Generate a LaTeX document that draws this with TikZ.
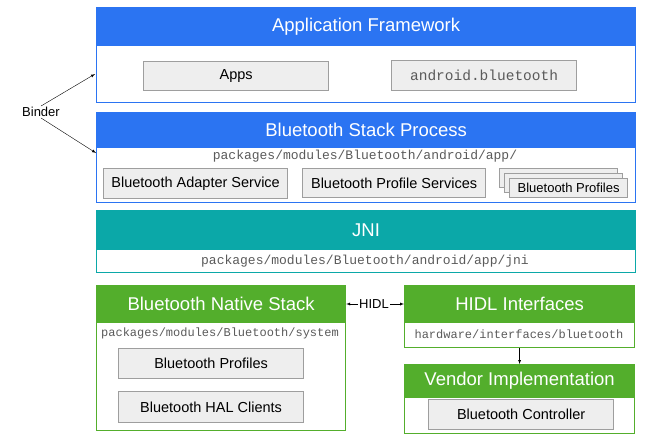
\documentclass[tikz,border=0pt]{standalone}
\usepackage{fontspec}
\setmainfont{Liberation Sans}
\setmonofont{Liberation Mono}
\usepackage{tikz}
\newcommand{\code}[1]{\texttt{#1}}
\definecolor{fwblue}{HTML}{2B74F2}
\definecolor{jniteal}{HTML}{0BA8A8}
\definecolor{natgreen}{HTML}{53AE2C}
\definecolor{boxgray}{HTML}{EEEEEE}
\definecolor{boxline}{HTML}{9E9E9E}
\definecolor{pathgray}{HTML}{5A5A5A}
\tikzset{
  layer/.style={draw=#1, line width=1.2pt, anchor=north west, inner sep=0pt},
  header/.style={fill=#1, draw=#1, line width=1.2pt, text=white, anchor=north west, inner sep=0pt, font=\fontsize{18.5}{20}\selectfont},
  comp/.style={draw=boxline, fill=boxgray, line width=1.2pt, anchor=north west, inner sep=0pt, font=\fontsize{14.5}{16}\selectfont},
  srcpath/.style={text=pathgray, inner sep=0pt, font=\fontsize{#1}{15}\selectfont\ttfamily},
  srcpath/.default=13,
  lbl/.style={inner sep=1pt, font=\fontsize{13}{15}\selectfont}
}

\begin{document}
\begin{tikzpicture}[x=1pt, y=-1pt, >=latex]
\useasboundingbox (0,0) rectangle (655,444);

% application framework
\node[layer=fwblue, minimum width=539pt, minimum height=95pt] (app) at (96,7) {};
\node[header=fwblue, minimum width=539pt, minimum height=38pt] (apphead) at (96,7) {Application Framework};
\node[comp, minimum width=185pt, minimum height=29pt] (apps) at (143,61) {Apps};
\node[comp, minimum width=185pt, minimum height=30pt, text=pathgray] (andbt) at (391,60) {\fontsize{14.5}{16}\selectfont\code{android.bluetooth}};

% bluetooth stack process
\node[layer=fwblue, minimum width=539pt, minimum height=90pt] (stack) at (96,112) {};
\node[header=fwblue, minimum width=539pt, minimum height=35pt] (stackhead) at (96,112) {Bluetooth Stack Process};
\node[srcpath] (stackpath) at (365,156) {packages/modules/Bluetooth/android/app/};
\node[comp, minimum width=184pt, minimum height=30pt] (adapter) at (103,168) {Bluetooth Adapter Service};
\node[comp, minimum width=183pt, minimum height=29pt] (profsvc) at (302,168) {Bluetooth Profile Services};
\node[comp, minimum width=118pt, minimum height=19pt] (prof1) at (499,168) {};
\node[comp, minimum width=118pt, minimum height=19pt] (prof2) at (504,173) {};
\node[comp, minimum width=118pt, minimum height=19pt, font=\fontsize{13}{15}\selectfont] (prof3) at (509,178) {Bluetooth Profiles};

% binder
\node[lbl] (binder) at (41,112) {Binder};
\coordinate (appin) at (95,74);
\coordinate (stackin) at (96,153);
\draw[->] (binder.north) -- (appin);
\draw[->] (binder.south) -- (stackin);

% jni
\node[layer=jniteal, minimum width=539pt, minimum height=62pt] (jni) at (96,210) {};
\node[header=jniteal, minimum width=539pt, minimum height=39pt] (jnihead) at (96,210) {JNI};
\node[srcpath] (jnipath) at (365,261) {packages/modules/Bluetooth/android/app/jni};

% native stack
\node[layer=natgreen, minimum width=249pt, minimum height=145pt] (native) at (96,285) {};
\node[header=natgreen, minimum width=249pt, minimum height=37pt] (nativehead) at (96,285) {Bluetooth Native Stack};
\node[srcpath=12] (nativepath) at (220,333) {packages/modules/Bluetooth/system};
\node[comp, minimum width=185pt, minimum height=30pt] (btprof) at (118,348) {Bluetooth Profiles};
\node[comp, minimum width=185pt, minimum height=31pt] (halcli) at (118,391) {Bluetooth HAL Clients};

% hidl
\node[layer=natgreen, minimum width=230pt, minimum height=62pt] (hidl) at (404,285) {};
\node[header=natgreen, minimum width=230pt, minimum height=37pt] (hidlhead) at (404,285) {HIDL Interfaces};
\node[srcpath=12] (hidlpath) at (519,334) {hardware/interfaces/bluetooth};

% vendor
\node[layer=natgreen, minimum width=230pt, minimum height=69pt] (vendor) at (404,364) {};
\node[header=natgreen, minimum width=230pt, minimum height=33pt] (vendorhead) at (404,364) {Vendor Implementation};
\node[comp, minimum width=185pt, minimum height=30pt] (ctrl) at (428,399) {Bluetooth Controller};

\node[lbl] (hidllbl) at (374,304) {HIDL};
\draw[->] (hidllbl.west) -- (native.east |- hidllbl);
\draw[->] (hidllbl.east) -- (hidl.west |- hidllbl);
\draw[->] (hidl.south) -- (vendor.north);
\end{tikzpicture}
\end{document}
